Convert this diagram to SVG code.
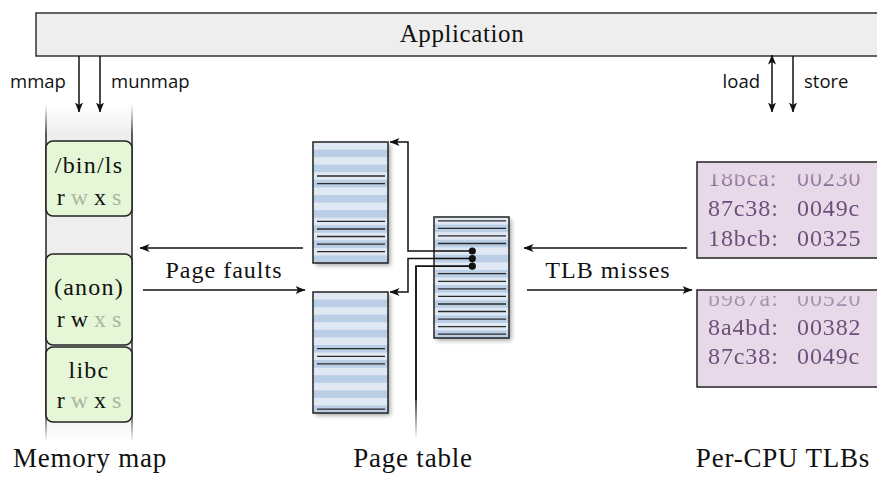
<svg xmlns="http://www.w3.org/2000/svg" width="877" height="477" viewBox="0 0 877 477">
<style>
.serif{font-family:"Liberation Serif","Times New Roman",Tinos,Times,serif;fill:#111}
.sans{font-family:"Open Sans","Lato","DejaVu Sans",sans-serif;font-size:18.5px;fill:#111}
.lbl{font-size:24px;letter-spacing:1px}
.cap{font-size:27px;letter-spacing:0.8px}
.seg{fill:#e5f7d6;stroke:#222;stroke-width:1.5}
.perm{font-size:24px}
.off{fill:#a9b7a2}
.tlb{fill:#e8d9e8;stroke:#222;stroke-width:1.5}
.tlbt{font-size:24px;letter-spacing:0.9px;fill:#6e4f7c}
.ln{stroke:#111;stroke-width:1.5;fill:none}
.ent{stroke:#2a2a2a;stroke-width:1.3}
</style>
<defs>
<marker id="ah" viewBox="0 0 10 8" refX="9.5" refY="4" markerWidth="10" markerHeight="8" markerUnits="userSpaceOnUse" orient="auto-start-reverse">
<path d="M0,0 L10,4 L0,8 L2.5,4 Z" fill="#111"/>
</marker>
<pattern id="stripes" patternUnits="userSpaceOnUse" width="75" height="15.125">
<rect width="75" height="7.5625" fill="#dfe8f3"/>
<rect y="7.5625" width="75" height="7.5625" fill="#bacfe6"/>
</pattern>
<filter id="sh" x="-20%" y="-20%" width="150%" height="150%">
<feDropShadow dx="2.5" dy="2.5" stdDeviation="2" flood-color="#000" flood-opacity="0.35"/>
</filter>
<linearGradient id="colfade" gradientUnits="userSpaceOnUse" x1="0" y1="104" x2="0" y2="442">
<stop offset="0" stop-color="#fff" stop-opacity="0"/>
<stop offset="0.09" stop-color="#fff" stop-opacity="1"/>
<stop offset="0.91" stop-color="#fff" stop-opacity="1"/>
<stop offset="1" stop-color="#fff" stop-opacity="0"/>
</linearGradient>
<mask id="colmask" maskUnits="userSpaceOnUse" x="0" y="0" width="877" height="477">
<rect x="0" y="100" width="200" height="345" fill="url(#colfade)"/>
</mask>
<linearGradient id="linefade" gradientUnits="userSpaceOnUse" x1="0" y1="400" x2="0" y2="440">
<stop offset="0" stop-color="#111" stop-opacity="1"/>
<stop offset="1" stop-color="#111" stop-opacity="0"/>
</linearGradient>
<linearGradient id="tlbfade" gradientUnits="objectBoundingBox" x1="0" y1="0" x2="0" y2="1">
<stop offset="0" stop-color="#fff" stop-opacity="0.35"/>
<stop offset="0.18" stop-color="#fff" stop-opacity="0.6"/>
<stop offset="0.32" stop-color="#fff" stop-opacity="1"/>
<stop offset="1" stop-color="#fff" stop-opacity="1"/>
</linearGradient>
<clipPath id="tlbclip1"><rect x="697" y="174" width="200" height="84"/></clipPath>
<clipPath id="tlbclip2"><rect x="697" y="296" width="200" height="91"/></clipPath>
<mask id="tlbm1" maskUnits="userSpaceOnUse" x="697" y="162" width="200" height="96"><rect x="697" y="162" width="200" height="96" fill="url(#tlbfade)"/></mask>
<mask id="tlbm2" maskUnits="userSpaceOnUse" x="697" y="290" width="200" height="97"><rect x="697" y="290" width="200" height="97" fill="url(#tlbfade)"/></mask>
<g id="ptbase">
<rect width="75" height="121" fill="url(#stripes)" filter="url(#sh)"/>
<rect width="75" height="121" fill="url(#stripes)" stroke="#222" stroke-width="1.5"/>
</g>
</defs>

<g id="application">
<rect x="36" y="13" width="850" height="43" fill="#eeeeee" stroke="#333" stroke-width="1.5"/>
<text class="serif" x="462" y="42" font-size="25" letter-spacing="0.6" text-anchor="middle">Application</text>
</g>

<g id="memory-map">
<g mask="url(#colmask)">
<rect x="46" y="104" width="86" height="338" fill="#eeeeee"/>
<line x1="46" y1="104" x2="46" y2="442" stroke="#222" stroke-width="1.5"/>
<line x1="132" y1="104" x2="132" y2="442" stroke="#222" stroke-width="1.5"/>
</g>
<g id="seg-binls">
<rect class="seg" x="46" y="141" width="86" height="75" rx="7"/>
<text class="serif perm" x="89" y="173" text-anchor="middle" letter-spacing="1.2">/bin/ls</text>
<text class="serif perm" x="89" y="205" text-anchor="middle" xml:space="preserve">r <tspan class="off">w</tspan> x <tspan class="off">s</tspan></text>
</g>
<g id="seg-anon">
<rect class="seg" x="46" y="254" width="86" height="91" rx="7"/>
<text class="serif perm" x="89" y="295" text-anchor="middle" letter-spacing="1.2">(anon)</text>
<text class="serif perm" x="89" y="327" text-anchor="middle" xml:space="preserve">r w <tspan class="off">x</tspan> <tspan class="off">s</tspan></text>
</g>
<g id="seg-libc">
<rect class="seg" x="46" y="347" width="86" height="75" rx="7"/>
<text class="serif perm" x="89" y="378" text-anchor="middle" letter-spacing="1.2">libc</text>
<text class="serif perm" x="89" y="408" text-anchor="middle" xml:space="preserve">r <tspan class="off">w</tspan> x <tspan class="off">s</tspan></text>
</g>
</g>

<g id="page-table-1">
<g transform="translate(313,142)">
<use href="#ptbase"/>
<g class="ent">
<line x1="4" x2="72" y1="34" y2="34"/><line x1="4" x2="72" y1="41.6" y2="41.6"/>
<line x1="4" x2="72" y1="79.4" y2="79.4"/><line x1="4" x2="72" y1="87" y2="87"/>
<line x1="4" x2="72" y1="94.5" y2="94.5"/><line x1="4" x2="72" y1="102.1" y2="102.1"/>
<line x1="4" x2="72" y1="109.7" y2="109.7"/>
</g>
</g>
</g>

<g id="page-table-2">
<g transform="translate(313,292)">
<use href="#ptbase"/>
<g class="ent">
<line x1="4" x2="72" y1="56.7" y2="56.7"/><line x1="4" x2="72" y1="64.3" y2="64.3"/>
<line x1="4" x2="72" y1="71.8" y2="71.8"/><line x1="4" x2="72" y1="117.2" y2="117.2"/>
</g>
</g>
</g>

<g id="page-table-root">
<g transform="translate(434,217)">
<use href="#ptbase"/>
<g class="ent">
<line x1="4" x2="72" y1="3.8" y2="3.8"/><line x1="4" x2="72" y1="11.3" y2="11.3"/>
<line x1="4" x2="72" y1="18.9" y2="18.9"/><line x1="4" x2="72" y1="26.5" y2="26.5"/>
<line x1="4" x2="72" y1="56.7" y2="56.7"/><line x1="4" x2="72" y1="64.3" y2="64.3"/>
<line x1="4" x2="72" y1="71.8" y2="71.8"/><line x1="4" x2="72" y1="79.4" y2="79.4"/>
<line x1="4" x2="72" y1="87" y2="87"/><line x1="4" x2="72" y1="94.5" y2="94.5"/>
<line x1="4" x2="72" y1="102.1" y2="102.1"/><line x1="4" x2="72" y1="109.7" y2="109.7"/>
<line x1="4" x2="72" y1="117.2" y2="117.2"/>
</g>
</g>
</g>

<g id="tlb-1">
<rect class="tlb" x="697" y="162" width="200" height="96"/>
<g clip-path="url(#tlbclip1)"><g mask="url(#tlbm1)" class="serif tlbt">
<text class="tlbt" x="708" y="186">18bca:</text><text class="tlbt" x="797" y="186">00230</text>
<text class="tlbt" x="708" y="216">87c38:</text><text class="tlbt" x="797" y="216">0049c</text>
<text class="tlbt" x="708" y="246">18bcb:</text><text class="tlbt" x="797" y="246">00325</text>
</g></g>
</g>

<g id="tlb-2">
<rect class="tlb" x="697" y="290" width="200" height="97"/>
<g clip-path="url(#tlbclip2)"><g mask="url(#tlbm2)" class="serif tlbt">
<text class="tlbt" x="708" y="306">b987a:</text><text class="tlbt" x="797" y="306">00520</text>
<text class="tlbt" x="708" y="335">8a4bd:</text><text class="tlbt" x="797" y="335">00382</text>
<text class="tlbt" x="708" y="364">87c38:</text><text class="tlbt" x="797" y="364">0049c</text>
</g></g>
</g>

<g id="connectors">
<line class="ln" x1="79" y1="56" x2="79" y2="112" marker-end="url(#ah)"/>
<line class="ln" x1="100" y1="56" x2="100" y2="112" marker-end="url(#ah)"/>
<line class="ln" x1="772" y1="55" x2="772" y2="112" marker-start="url(#ah)" marker-end="url(#ah)"/>
<line class="ln" x1="793" y1="56" x2="793" y2="112" marker-end="url(#ah)"/>
<line class="ln" x1="303" y1="248" x2="140" y2="248" marker-end="url(#ah)"/>
<line class="ln" x1="143" y1="290" x2="305" y2="290" marker-end="url(#ah)"/>
<line class="ln" x1="687" y1="248" x2="524" y2="248" marker-end="url(#ah)"/>
<line class="ln" x1="527" y1="290" x2="692" y2="290" marker-end="url(#ah)"/>
<path class="ln" d="M472,251 H408 V142 H390" marker-end="url(#ah)"/>
<path class="ln" d="M472,258.6 H408 V292 H390" marker-end="url(#ah)"/>
<path d="M472,266.2 H416 V440" fill="none" stroke="url(#linefade)" stroke-width="1.5"/>
<path d="M472,266.2 H416 V400" fill="none" stroke="#111" stroke-width="1.5"/>
<circle cx="472.3" cy="251" r="3.6" fill="#111"/>
<circle cx="472.3" cy="258.6" r="3.6" fill="#111"/>
<circle cx="472.3" cy="266.2" r="3.6" fill="#111"/>
<text class="sans" x="10" y="88">mmap</text>
<text class="sans" x="111" y="88">munmap</text>
<text class="sans" x="760" y="88" text-anchor="end">load</text>
<text class="sans" x="804" y="88">store</text>
<text class="serif lbl" x="224" y="278" text-anchor="middle">Page faults</text>
<text class="serif lbl" x="608" y="278" text-anchor="middle">TLB misses</text>
</g>

<g id="captions">
<text class="serif cap" x="90" y="467" text-anchor="middle" letter-spacing="1.3">Memory map</text>
<text class="serif cap" x="413" y="467" text-anchor="middle">Page table</text>
<text class="serif cap" x="783" y="467" text-anchor="middle">Per-CPU TLBs</text>
</g>
</svg>
